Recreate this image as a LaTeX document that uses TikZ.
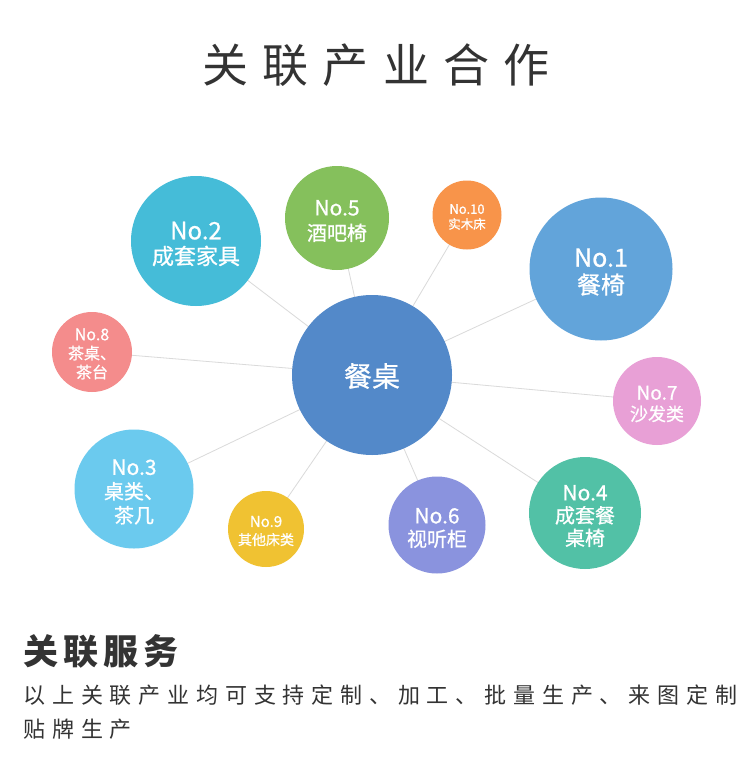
\documentclass[tikz,border=0pt]{standalone}
\usepackage{fontspec}
\setmainfont{Noto Sans CJK SC}
\newfontfamily\cjk{Noto Sans CJK SC}
\newfontfamily\cjkb[FakeBold=0.8]{Noto Sans CJK SC}
\definecolor{ccenter}{HTML}{5389C9}
\definecolor{ctwo}{HTML}{45BCD8}
\definecolor{cfive}{HTML}{85C05C}
\definecolor{cten}{HTML}{F8944A}
\definecolor{cone}{HTML}{62A4DA}
\definecolor{ceight}{HTML}{F48C8C}
\definecolor{cseven}{HTML}{E8A0D6}
\definecolor{cthree}{HTML}{6BCAEE}
\definecolor{cnine}{HTML}{F0C232}
\definecolor{csix}{HTML}{8A93DE}
\definecolor{cfour}{HTML}{52C1A6}
\definecolor{linkgray}{HTML}{DADADA}
\definecolor{textdark}{HTML}{333333}
\newcommand{\fs}[2]{\fontsize{#1bp}{#2bp}\selectfont}
\tikzset{
  bubble/.style={circle, inner sep=0pt},
  bubtext/.style={inner sep=0pt, text=white, align=center},
  link/.style={draw=linkgray, line width=0.8bp},
}
\begin{document}
\begin{tikzpicture}[x=1bp,y=-1bp]
\useasboundingbox[fill=white] (0,0) rectangle (750,778);
% title
\node[text=textdark, font={\cjk\fs{46}{50}\addfontfeature{LetterSpace=31}}] (title) at (376,65) {关联产业合作};
% links (drawn first)
\coordinate (pc) at (372,375);
\coordinate (p2) at (196,241);
\coordinate (p5) at (337,218);
\coordinate (p10) at (467,215);
\coordinate (p1) at (601,269);
\coordinate (p8) at (92,352);
\coordinate (p7) at (657,401);
\coordinate (p3) at (134,489);
\coordinate (p9) at (266,529);
\coordinate (p6) at (437,525);
\coordinate (p4) at (585,513);
\foreach \p in {p2,p5,p10,p1,p8,p7,p3,p9,p6,p4}
  \draw[link] (pc) -- (\p);
% bubbles
\node[bubble, fill=ccenter, minimum size=160bp] (c) at (pc) {};
\node[bubble, fill=ctwo, minimum size=130bp] (n2) at (p2) {};
\node[bubble, fill=cfive, minimum size=104bp] (n5) at (p5) {};
\node[bubble, fill=cten, minimum size=69bp] (n10) at (p10) {};
\node[bubble, fill=cone, minimum size=143bp] (n1) at (p1) {};
\node[bubble, fill=ceight, minimum size=80bp] (n8) at (p8) {};
\node[bubble, fill=cseven, minimum size=88bp] (n7) at (p7) {};
\node[bubble, fill=cthree, minimum size=119bp] (n3) at (p3) {};
\node[bubble, fill=cnine, minimum size=76bp] (n9) at (p9) {};
\node[bubble, fill=csix, minimum size=97bp] (n6) at (p6) {};
\node[bubble, fill=cfour, minimum size=112bp] (n4) at (p4) {};
% bubble texts
\node[bubtext, font={\cjkb\fs{28}{30}}] (tc) at ([yshift=-1bp]c.center) {餐桌};
\node[bubtext, font={\cjkb\fs{22}{25}}] (t2) at ([yshift=-3bp]n2.center) {{\fs{24}{25}No.2}\\成套家具};
\node[bubtext, font={\cjkb\fs{20}{25}}] (t5) at ([yshift=-3bp]n5.center) {{\fs{21}{25}No.5}\\酒吧椅};
\node[bubtext, font={\cjkb\fs{12.5}{15}}] (t10) at ([yshift=-2bp]n10.center) {{\fs{13}{15}No.10}\\实木床};
\node[bubtext, font={\cjkb\fs{24}{27}}] (t1) at ([yshift=-3bp]n1.center) {{\fs{25}{27}No.1}\\餐椅};
\node[bubtext, font={\cjkb\fs{16}{19}}] (t8) at ([yshift=-2bp]n8.center) {No.8\\茶桌、\\茶台};
\node[bubtext, font={\cjkb\fs{18}{21}}] (t7) at ([yshift=-3bp]n7.center) {{\fs{19}{21}No.7}\\沙发类};
\node[bubtext, font={\cjkb\fs{20}{24}}] (t3) at ([yshift=-3bp]n3.center) {{\fs{21}{24}No.3}\\桌类、\\茶几};
\node[bubtext, font={\cjkb\fs{14}{18}}] (t9) at ([yshift=-2bp]n9.center) {{\fs{15}{18}No.9}\\其他床类};
\node[bubtext, font={\cjkb\fs{20}{23}}] (t6) at ([yshift=-3bp]n6.center) {{\fs{21}{23}No.6}\\视听柜};
\node[bubtext, font={\cjkb\fs{20}{22.5}}] (t4) at ([yshift=-3bp]n4.center) {{\fs{21}{22.5}No.4}\\成套餐\\桌椅};
% bottom texts
\node[anchor=west, text=textdark, font={\cjk\bfseries\fs{35}{40}\addfontfeature{LetterSpace=14}}] (svc) at (20,651) {关联服务};
\node[anchor=west, text=textdark, font={\cjk\fs{22}{26}\addfontfeature{LetterSpace=31}}] (l1) at (20,695) {以上关联产业均可支持定制、加工、批量生产、来图定制};
\node[anchor=west, text=textdark, font={\cjk\fs{22}{26}\addfontfeature{LetterSpace=31}}] (l2) at (20,729) {贴牌生产};
\end{tikzpicture}
\end{document}
